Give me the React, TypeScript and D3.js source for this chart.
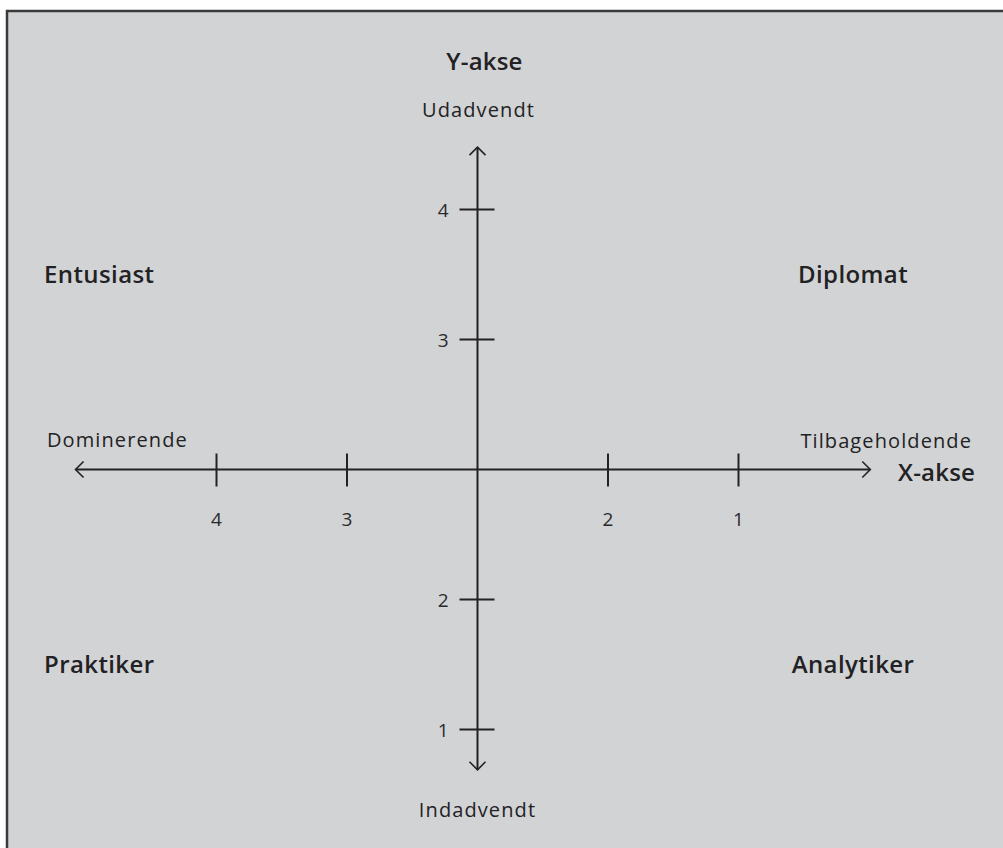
import React, { useEffect, useRef } from "react";
import * as d3 from "d3";

// ---------- Data ----------
// tick labels along each axis and the slot (steps from origin) each one sits at
const xTickLabels = ["4", "3", "2", "1"];
const xTickSlots = [-2, -1, 1, 2];
const yTickLabels = ["4", "3", "2", "1"];
const yTickSlots = [2, 1, -1, -2];

const axisTitles = { x: "X-akse", y: "Y-akse" };
const axisEnds = {
  left: "Dominerende",
  right: "Tilbageholdende",
  top: "Udadvendt",
  bottom: "Indadvendt",
};
// quadrant names: [name, side x, side y]
const quadrants: [string, number, number][] = [
  ["Entusiast", -1, 1],
  ["Diplomat", 1, 1],
  ["Praktiker", -1, -1],
  ["Analytiker", 1, -1],
];

const WIDTH = 1003;
const HEIGHT = 848;
const FONT = "'Open Sans', Lato, sans-serif";
const INK = "#222224";

const App: React.FC = () => {
  const svgRef = useRef<SVGSVGElement | null>(null);

  useEffect(() => {
    const svg = d3.select(svgRef.current);
    svg.selectAll("*").remove();

    // scales: one step = ~130px, origin at (477, 468)
    const x = d3.scaleLinear().domain([-2, 2]).range([216.5, 738.5]);
    const y = d3.scaleLinear().domain([-2, 2]).range([729.5, 209.5]);

    // panel
    svg
      .append("rect")
      .attr("x", 7)
      .attr("y", 11)
      .attr("width", WIDTH + 10)
      .attr("height", HEIGHT + 10)
      .attr("fill", "#d2d3d5")
      .attr("stroke", "#3a3a3c")
      .attr("stroke-width", 2.5);

    const g = svg.append("g");

    const x0 = x(0);
    const y0 = y(0);
    const xMin = x(-3.08);
    const xMax = x(3.01);
    const yMax = y(2.48);
    const yMin = y(-2.31);
    const ah = 8; // arrow head size

    // horizontal axis
    g.append("line")
      .attr("x1", xMin)
      .attr("x2", xMax)
      .attr("y1", y0)
      .attr("y2", y0)
      .attr("stroke", INK)
      .attr("stroke-width", 2);
    // vertical axis
    g.append("line")
      .attr("x1", x0)
      .attr("x2", x0)
      .attr("y1", yMax)
      .attr("y2", yMin)
      .attr("stroke", INK)
      .attr("stroke-width", 2);

    // arrow heads
    const heads = [
      `M${xMin + ah},${y0 - ah} L${xMin},${y0} L${xMin + ah},${y0 + ah}`,
      `M${xMax - ah},${y0 - ah} L${xMax},${y0} L${xMax - ah},${y0 + ah}`,
      `M${x0 - ah},${yMax + ah} L${x0},${yMax} L${x0 + ah},${yMax + ah}`,
      `M${x0 - ah},${yMin - ah} L${x0},${yMin} L${x0 + ah},${yMin - ah}`,
    ];
    g.selectAll("path.head")
      .data(heads)
      .enter()
      .append("path")
      .attr("class", "head")
      .attr("d", (d) => d)
      .attr("fill", "none")
      .attr("stroke", INK)
      .attr("stroke-width", 1.6);

    // x ticks
    const xt = g
      .selectAll("g.xt")
      .data(xTickSlots)
      .enter()
      .append("g")
      .attr("transform", (d) => `translate(${x(d)},${y0})`);
    xt.append("line")
      .attr("y1", -16)
      .attr("y2", 17)
      .attr("stroke", INK)
      .attr("stroke-width", 2);
    xt.append("text")
      .attr("y", 56)
      .attr("text-anchor", "middle")
      .attr("font-size", 19)
      .attr("fill", "#2a2a2c")
      .text((_, i) => xTickLabels[i]);

    // y ticks
    const yt = g
      .selectAll("g.yt")
      .data(yTickSlots)
      .enter()
      .append("g")
      .attr("transform", (d) => `translate(${x0},${y(d)})`);
    yt.append("line")
      .attr("x1", -18)
      .attr("x2", 17)
      .attr("stroke", INK)
      .attr("stroke-width", 2);
    yt.append("text")
      .attr("x", -29)
      .attr("y", 7)
      .attr("text-anchor", "end")
      .attr("font-size", 19)
      .attr("fill", "#2a2a2c")
      .text((_, i) => yTickLabels[i]);

    const label = (
      tx: number,
      ty: number,
      text: string,
      anchor: string,
      size: number,
      weight: number,
      spacing: number
    ) =>
      g
        .append("text")
        .attr("x", tx)
        .attr("y", ty)
        .attr("text-anchor", anchor)
        .attr("font-size", size)
        .attr("font-weight", weight)
        .attr("letter-spacing", spacing)
        .attr("fill", INK)
        .text(text);

    // axis titles and end labels
    label(x0 + 7, 70, axisTitles.y, "middle", 24, 600, 0.2);
    label(x0 + 1, 117, axisEnds.top, "middle", 20, 400, 1.1);
    label(x0, 817, axisEnds.bottom, "middle", 20, 400, 1.1);
    label(47, 447, axisEnds.left, "start", 20, 400, 1.1);
    label(972, 448, axisEnds.right, "end", 20, 400, 1.1);
    label(898, 481, axisTitles.x, "start", 24, 600, 0.2);

    // quadrant names
    const qx = (s: number) => (s < 0 ? 44 : 853);
    const qy = (s: number) => (s > 0 ? 283 : 673);
    quadrants.forEach(([name, sx, sy]) =>
      label(qx(sx), qy(sy), name, sx < 0 ? "start" : "middle", 24, 600, 0.4)
    );
  }, []);

  return (
    <div style={{ position: "absolute", left: 0, top: 0 }}>
      <svg
        ref={svgRef}
        width={WIDTH}
        height={HEIGHT}
        style={{ display: "block", fontFamily: FONT, background: "#fff" }}
      />
    </div>
  );
};

export default App;
